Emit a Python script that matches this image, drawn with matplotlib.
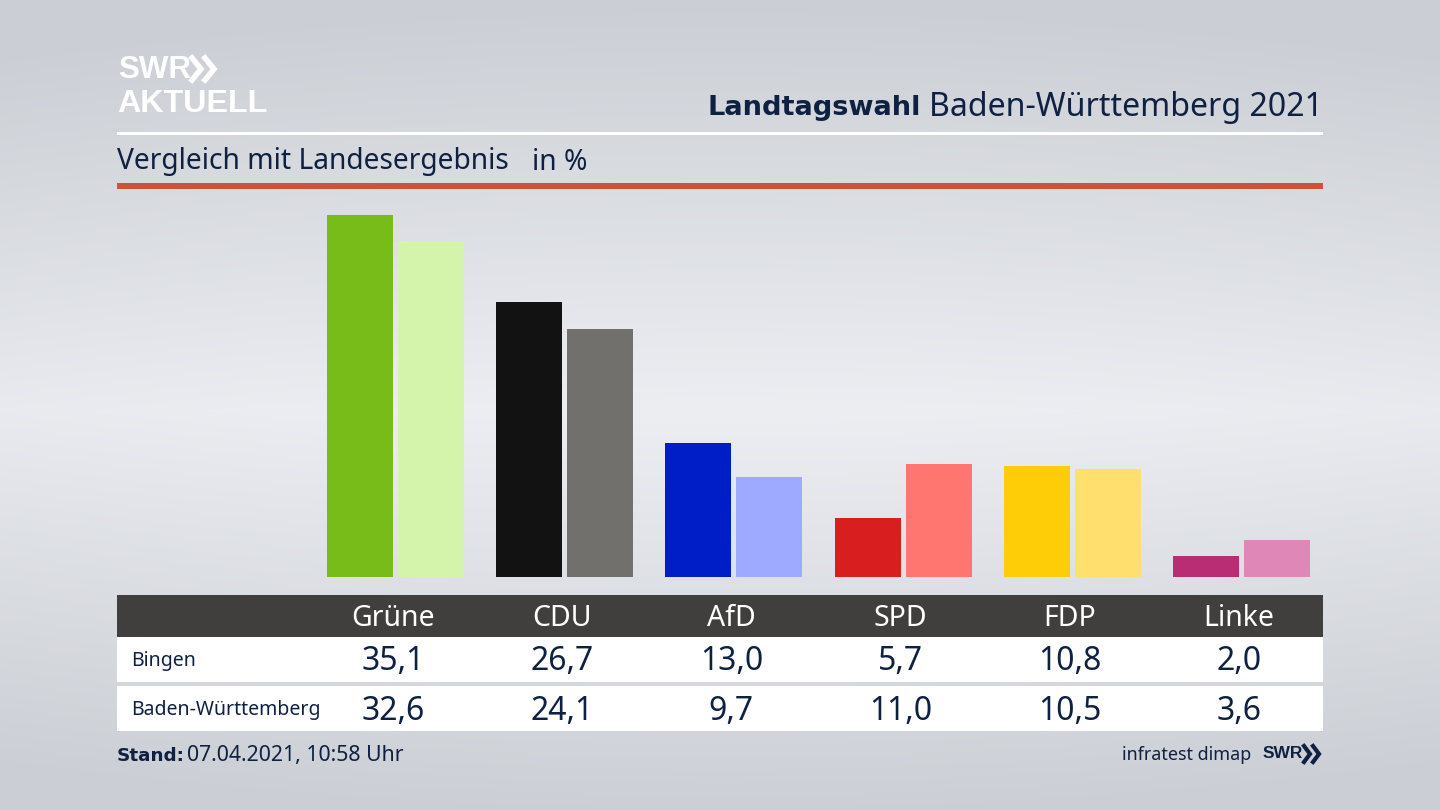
import numpy as np
import matplotlib
matplotlib.use("Agg")
import matplotlib.pyplot as plt
from matplotlib.patches import Rectangle

parties = ["Grüne", "CDU", "AfD", "SPD", "FDP", "Linke"]
bingen = [35.1, 26.7, 13.0, 5.7, 10.8, 2.0]
land = [32.6, 24.1, 9.7, 11.0, 10.5, 3.6]
row_names = ["Bingen", "Baden-Württemberg"]
colors_bingen = ["#78bc1a", "#121212", "#001ec8", "#d81e1e", "#ffcc08", "#b92d75"]
colors_land = ["#d5f4ab", "#72706d", "#9eaaff", "#ff7570", "#ffe06e", "#df88b8"]

NAVY = "#0e2142"
plt.rcParams["font.family"] = ["Noto Sans", "DejaVu Sans"]
BOLD = ["DejaVu Sans"]
LOGO = ["Liberation Sans"]


def fmt(v):
    return f"{v:.1f}".replace(".", ",")


fig = plt.figure(figsize=(14.4, 8.1), dpi=100)

# background and frame, in pixel coordinates
bg = fig.add_axes([0, 0, 1, 1])
yy, xx = np.mgrid[0:810:2, 0:1440:2]
t = 1 - np.abs(yy - 410) / 410
side = (np.abs(xx - 720) / 720) ** 2 * 0.12
t = np.clip(t - side, 0, 1)[..., None]
edge = np.array([203, 206, 212]) / 255
mid = np.array([236, 238, 242]) / 255
bg.imshow(edge + (mid - edge) * t, extent=(0, 1440, 810, 0), aspect="auto",
          zorder=0, interpolation="bilinear")
bg.set_xlim(0, 1440)
bg.set_ylim(810, 0)
bg.axis("off")

bg.add_patch(Rectangle((117, 132), 1206, 3, color="white", lw=0))
bg.add_patch(Rectangle((117, 183), 1206, 6, color="#cd5237", lw=0))
bg.add_patch(Rectangle((117, 595), 1206, 42, color="#403f3d", lw=0))
bg.add_patch(Rectangle((117, 637), 1206, 45, color="white", lw=0))
bg.add_patch(Rectangle((117, 686), 1206, 45, color="white", lw=0))

# logo
bg.text(118, 70, "SWR", color="white", fontsize=22.5, fontweight="bold", family=LOGO, va="center", ha="left")
bg.text(117, 104, "AKTUELL", color="white", fontsize=23.2, fontweight="bold", family=LOGO, va="center", ha="left")
for x0 in (192, 205):
    bg.plot([x0, x0 + 9, x0], [58, 69, 80], color="white", lw=4, solid_joinstyle="miter")
for x0 in (1304, 1313):
    bg.plot([x0, x0 + 6, x0], [746, 754, 762], color=NAVY, lw=3, solid_joinstyle="miter")

# header
bg.text(1323, 108, "Baden-Württemberg 2021", color=NAVY, fontsize=23.1, ha="right", va="center")
bg.text(921, 108, "Landtagswahl", color=NAVY, fontsize=19.6, fontweight="bold", family=BOLD, ha="right", va="center")
bg.text(117, 162, "Vergleich mit Landesergebnis", color=NAVY, fontsize=20.3, va="center")
bg.text(532, 162, "in %", color=NAVY, fontsize=20.3, va="center")

# footer
bg.text(117, 756, "Stand:", color=NAVY, fontsize=13.2, fontweight="bold", family=BOLD, va="center")
bg.text(187, 756, "07.04.2021, 10:58 Uhr", color=NAVY, fontsize=15.3, va="center")
bg.text(1251, 755, "infratest dimap", color=NAVY, fontsize=12.9, va="center", ha="right")
bg.text(1263, 754, "SWR", color=NAVY, fontsize=12.5, fontweight="bold", family=LOGO, va="center")

# bars: one category step is 169.2 px, one percent is 10.31 px
ax = fig.add_axes([117 / 1440, (810 - 577) / 810, 1206 / 1440, 387 / 810])
ax.patch.set_alpha(0)
x = np.arange(len(parties))
ax.set_xlim((117 - 395.5) / 169.2, (1323 - 395.5) / 169.2)
ax.set_ylim(0, 387 / 10.31)
ax.bar(x - 0.21, bingen, width=0.39, color=colors_bingen)
ax.bar(x + 0.21, land, width=0.39, color=colors_land)
ax.axis("off")

# table
for i, name in enumerate(parties):
    cx = 393 + 169.2 * i
    bg.text(cx, 618, name, color="white", fontsize=20.5, ha="center", va="center")
    bg.text(cx, 662, fmt(bingen[i]), color=NAVY, fontsize=23, ha="center", va="center")
    bg.text(cx, 711, fmt(land[i]), color=NAVY, fontsize=23, ha="center", va="center")
bg.text(131, 661, row_names[0], color=NAVY, fontsize=14, va="center")
bg.text(131, 710, row_names[1], color=NAVY, fontsize=14, va="center")

fig.savefig("out.png", dpi=100)
